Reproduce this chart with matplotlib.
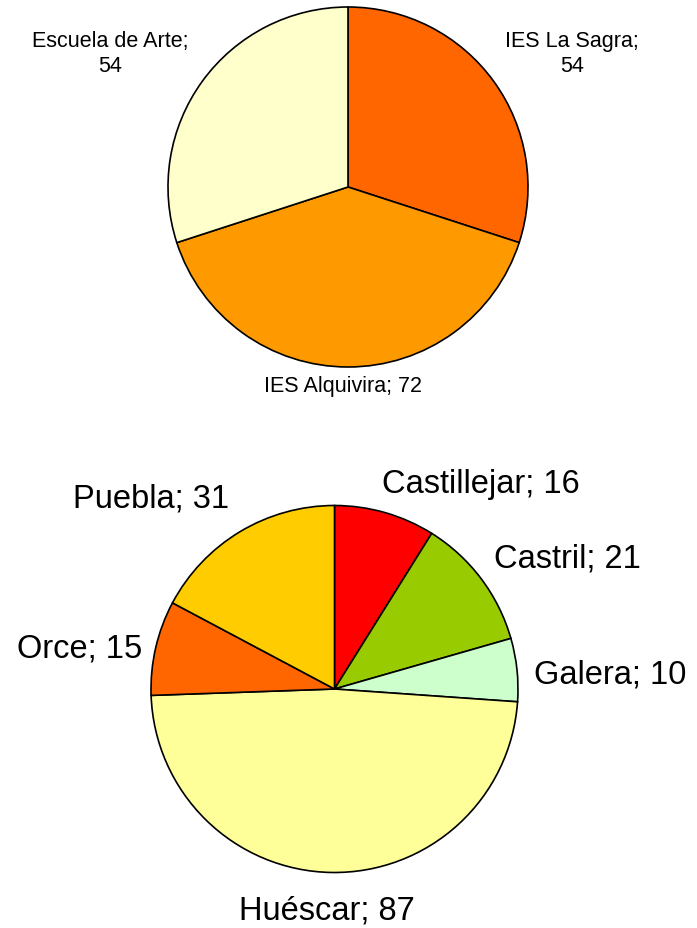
import matplotlib.pyplot as plt

plt.rcParams['font.family'] = ['Liberation Sans', 'DejaVu Sans']

# top pie: schools
schools = ["IES La Sagra", "IES Alquivira", "Escuela de Arte"]
school_vals = [54, 72, 54]
school_colors = ["#FF6600", "#FF9900", "#FFFFCC"]

# bottom pie: towns
towns = ["Castillejar", "Castril", "Galera", "Huéscar", "Orce", "Puebla"]
town_vals = [16, 21, 10, 87, 15, 31]
town_colors = ["#FF0000", "#99CC00", "#CCFFCC", "#FFFF99", "#FF6600", "#FFCC00"]

W, H = 697, 929
fig = plt.figure(figsize=(W / 100, H / 100), dpi=100)
ax = fig.add_axes([0, 0, 1, 1])

wedge = dict(edgecolor="black", linewidth=1.2)

ax.pie(school_vals, colors=school_colors, startangle=90, counterclock=False,
       center=(348, H - 188), radius=180, wedgeprops=wedge, frame=True)
ax.pie(town_vals, colors=town_colors, startangle=90, counterclock=False,
       center=(334.5, H - 690), radius=183.5, wedgeprops=wedge, frame=True)
ax.set_xlim(0, W)
ax.set_ylim(0, H)
ax.axis("off")

# label positions in pixels from top-left (x centre, y)
top_pos = {"IES La Sagra": (572, 54, True),
           "IES Alquivira": (343, 392, False),
           "Escuela de Arte": (110, 54, True)}
for name, v in zip(schools, school_vals):
    x, y, wrap = top_pos[name]
    if wrap:
        ax.text(x, H - y, f"{name};\n{v}", ha="center", va="center",
                fontsize=15.5, linespacing=1.25)
    else:
        ax.text(x, H - y, f"{name}; {v}", ha="center", va="baseline",
                fontsize=15.5)

bot_pos = {"Castillejar": (480.5, 493), "Castril": (567.5, 568),
           "Galera": (610, 684), "Huéscar": (326.5, 920),
           "Orce": (79.5, 657), "Puebla": (151, 508)}
for name, v in zip(towns, town_vals):
    x, y = bot_pos[name]
    ax.text(x, H - y, f"{name}; {v}", ha="center", va="baseline", fontsize=23.5)

fig.savefig("out.png", dpi=100)
